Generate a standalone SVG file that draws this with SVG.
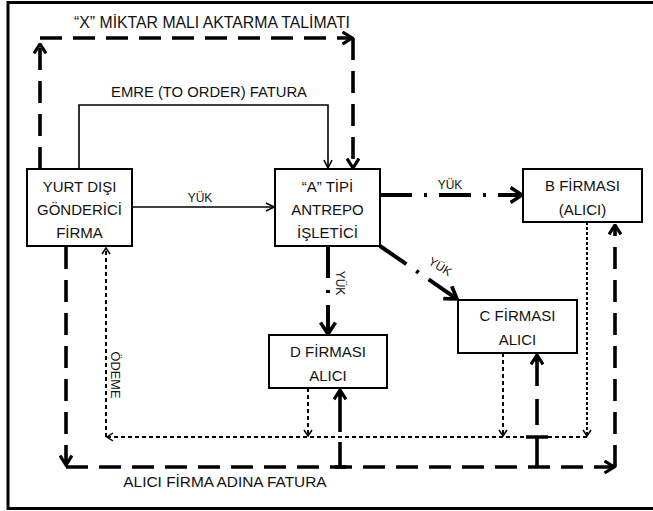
<svg xmlns="http://www.w3.org/2000/svg" width="653" height="511" viewBox="0 0 653 511">
<style>
text{font-family:"Liberation Sans",Arial,sans-serif;fill:#111}
.box rect{fill:#fff;stroke:#000;stroke-width:2}
.box text{font-size:15px;text-anchor:middle}
.lbl{font-size:14.8px;text-anchor:middle}
.sm{font-size:12px;text-anchor:middle}
.solid{fill:none;stroke:#000;stroke-width:1.6}
.dash{fill:none;stroke:#000;stroke-width:3.6;stroke-dasharray:22 11}
.dd{fill:none;stroke:#000;stroke-width:4;stroke-dasharray:32 12 3 12}
.dot{fill:none;stroke:#000;stroke-width:2;stroke-dasharray:4 3}
.fine{fill:none;stroke:#000;stroke-width:2;stroke-dasharray:3 2}
.thk{fill:none;stroke:#000;stroke-width:3.6}
</style>
<defs>
<marker id="aThick" viewBox="0 0 12 14" refX="10.5" refY="7" markerWidth="12" markerHeight="14" markerUnits="userSpaceOnUse" orient="auto">
<path d="M1,1 L10.5,7 L1,13" fill="none" stroke="#000" stroke-width="3.2"/>
</marker>
<marker id="aDD" viewBox="0 0 14 18" refX="12.5" refY="9" markerWidth="14" markerHeight="18" markerUnits="userSpaceOnUse" orient="auto">
<path d="M1,1.5 L12.5,9 L1,16.5" fill="none" stroke="#000" stroke-width="3.6"/>
</marker>
<marker id="aThin" viewBox="0 0 10 10" refX="9" refY="5" markerWidth="10" markerHeight="10" markerUnits="userSpaceOnUse" orient="auto">
<path d="M1,1 L9,5 L1,9" fill="none" stroke="#000" stroke-width="1.6"/>
</marker>
<marker id="aDot" viewBox="0 0 8 10" refX="7" refY="5" markerWidth="8" markerHeight="10" markerUnits="userSpaceOnUse" orient="auto">
<path d="M1,1 L7,5 L1,9" fill="none" stroke="#000" stroke-width="1.5"/>
</marker>
</defs>

<rect x="8" y="2.5" width="660" height="506" fill="#fff" stroke="#000" stroke-width="3"/>

<g id="connectors">
<!-- X MIKTAR MALI AKTARMA TALIMATI -->
<path class="dash" d="M40,169 V44" marker-end="url(#aThick)"/>
<path class="dash" d="M40,38 H352" marker-end="url(#aThick)"/>
<path class="dash" d="M353,38 V168" marker-end="url(#aThick)"/>
<text class="lbl" x="212" y="28" style="font-size:15.8px">“X” MİKTAR MALI AKTARMA TALİMATI</text>

<!-- EMRE FATURA -->
<path class="solid" d="M79,169 V105 H328 V168" marker-end="url(#aThin)"/>
<text class="lbl" x="209" y="97">EMRE (TO ORDER) FATURA</text>

<!-- YUK solid -->
<path class="solid" d="M132,207 H274" marker-end="url(#aThin)"/>
<text class="sm" x="200" y="202">YÜK</text>

<!-- A -> B -->
<path class="dd" d="M380,195 H522" marker-end="url(#aDD)"/>
<text class="sm" x="450" y="189">YÜK</text>

<!-- A -> C -->
<path class="dd" d="M380,246 L457,299" marker-end="url(#aDD)"/>
<text class="sm" transform="translate(438,270) rotate(32)">YÜK</text>

<!-- A -> D -->
<path class="dd" d="M328,246 V334" marker-end="url(#aDD)"/>
<text class="sm" transform="translate(336,283) rotate(90)">YÜK</text>

<!-- ODEME dotted -->
<path class="dot" d="M308,388 V436" marker-end="url(#aDot)"/>
<path class="dot" d="M503,353 V436" marker-end="url(#aDot)"/>
<path class="fine" d="M587,222 V436" marker-end="url(#aDot)"/>
<path class="dot" d="M587,437 H107" marker-end="url(#aDot)"/>
<path class="dot" d="M106,437 V248" marker-end="url(#aDot)"/>
<text class="sm" transform="translate(111,375) rotate(90)" style="font-size:12.8px">ÖDEME</text>

<!-- ALICI FIRMA ADINA FATURA -->
<path class="dash" d="M66,247 V465" marker-end="url(#aThick)"/>
<path class="dash" d="M66,467 H614" marker-end="url(#aThick)"/>
<path class="dash" d="M615,467 V225" marker-end="url(#aThick)"/>
<path class="thk" d="M340,467 V442 M340,432 V392"/>
<path class="thk" d="M340,397 V390" marker-end="url(#aThick)"/>
<path class="thk" d="M335,467 H346"/>
<path class="thk" d="M537,467 V437 M526,437 H548 M537,425 V399 M537,386 V356"/>
<path class="thk" d="M537,362 V355" marker-end="url(#aThick)"/>
<text class="lbl" x="225" y="487" style="font-size:15.4px">ALICI FİRMA ADINA FATURA</text>
</g>

<g id="node-yurtdisi" class="box">
<rect x="27" y="169" width="105" height="77"/>
<text x="79.5" y="192">YURT DIŞI</text>
<text x="79.5" y="215">GÖNDERİCİ</text>
<text x="79.5" y="238">FİRMA</text>
</g>
<g id="node-antrepo" class="box">
<rect x="275" y="169" width="105" height="77"/>
<text x="327.5" y="192">“A” TİPİ</text>
<text x="327.5" y="215">ANTREPO</text>
<text x="327.5" y="238">İŞLETİCİ</text>
</g>
<g id="node-b" class="box">
<rect x="523" y="169" width="119" height="53"/>
<text x="582.5" y="191">B FİRMASI</text>
<text x="582.5" y="215">(ALICI)</text>
</g>
<g id="node-c" class="box">
<rect x="458" y="300" width="119" height="53"/>
<text x="517.5" y="321">C FİRMASI</text>
<text x="517.5" y="345">ALICI</text>
</g>
<g id="node-d" class="box">
<rect x="269" y="335" width="118" height="53"/>
<text x="328" y="357">D FİRMASI</text>
<text x="328" y="381">ALICI</text>
</g>
</svg>
